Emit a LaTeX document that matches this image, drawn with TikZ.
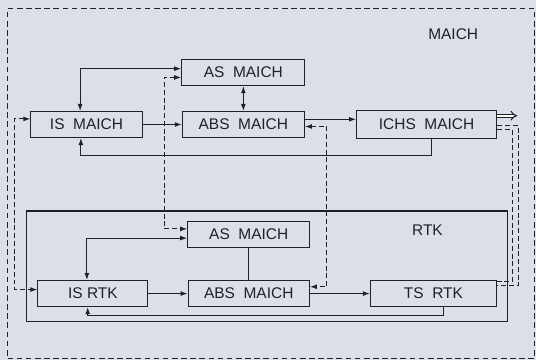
\documentclass[tikz,border=0pt]{standalone}
\usepackage{fontspec}
\setmainfont{Liberation Sans}
\usetikzlibrary{arrows.meta,positioning,fit}
\definecolor{paper}{RGB}{219,223,231}
\definecolor{ink}{RGB}{32,32,38}

\begin{document}
\begin{tikzpicture}[
    font=\fontsize{11}{13}\selectfont,
    color=ink, line width=.75pt,
    blk/.style={draw, align=center, minimum height=.65cm, inner sep=0pt},
    arrow/.style={-{Latex[length=5pt,width=3.5pt]}},
    twoway/.style={{Latex[length=5pt,width=3.5pt]}-{Latex[length=5pt,width=3.5pt]}},
    link/.style={dash pattern=on 3.5pt off 2pt},
    frame/.style={draw, dash pattern=on 4pt off 2.5pt, inner sep=0pt, anchor=north west}
  ]
    \path[use as bounding box, fill=paper] (0,0) rectangle (13.4,-9);

    \node[frame, minimum width=13.175cm, minimum height=8.75cm] (maich) at (0.175,-0.2) {};
    \node (maichlbl) at (11.33,-0.85) {MAICH};

    \node[blk, minimum width=2.78cm] (ismaich) at (2.1625,-3.1125) {IS\ \ MAICH};
    \node[blk, minimum width=3.05cm, right=.98cm of ismaich] (absmaich) {ABS\ \ MAICH};
    \node[blk, minimum width=3.08cm, above=.62cm of absmaich] (asmaich) {AS\ \ MAICH};
    \node[blk, minimum width=3.5cm, minimum height=.72cm, right=1.28cm of absmaich] (ichs) {ICHS\ \ MAICH};

    \node[blk, minimum width=2.75cm, below=3.55cm of ismaich, xshift=.16cm] (isrtk) {IS RTK};
    \node[blk, minimum width=3.03cm, right=.98cm of isrtk] (absrtk) {ABS\ \ MAICH};
    \node[blk, minimum width=3.05cm, above=.8cm of absrtk] (asrtk) {AS\ \ MAICH};
    \node[blk, minimum width=3.15cm, right=1.5cm of absrtk] (tsrtk) {TS\ \ RTK};

    \node[draw, fit=(isrtk)(asrtk)(tsrtk), inner xsep=.27cm, inner ysep=.3cm, yshift=-.05cm] (rtk) {};
    \node (rtklbl) at ([xshift=-2.02cm, yshift=-.5cm]rtk.north east) {RTK};

    \draw[arrow] (ismaich) -- (absmaich);
    \draw[arrow] ([yshift=.13cm]absmaich.east) -- ([yshift=.13cm]absmaich.east -| ichs.west);
    \draw[twoway] (asmaich) -- (absmaich);
    \draw[twoway] ([xshift=-.16cm]ismaich.north) |- ([yshift=.1cm]asmaich.west);
    \draw[arrow] ([xshift=.125cm]ichs.south) -- ++(0,-.4) -| ([xshift=-.14cm]ismaich.south);
    \draw[double, double distance=1.6pt, -{Implies}] ([yshift=.22cm]ichs.east) -- ++(.5,0);

    \draw[arrow] (isrtk) -- (absrtk);
    \draw[arrow] (absrtk) -- (tsrtk);
    \draw (asrtk) -- (absrtk);
    \draw[twoway] ([xshift=-.15cm]isrtk.north) |- ([yshift=-.09cm]asrtk.west);
    \draw[arrow] ([xshift=.25cm]tsrtk.south) -- ++(0,-.2) -| ([xshift=-.13cm]isrtk.south);

    \draw[link, twoway] ([yshift=-.12cm]asmaich.west) -- ++(-.43,0) |- ([yshift=.14cm]asrtk.west);
    \draw[link, twoway] ([yshift=-.05cm]absmaich.east) -- ++(.55,0) |- ([yshift=.17cm]absrtk.east);
    \draw[link, twoway] ([yshift=.14cm]ismaich.west) -- ++(-.4,0) |- ([yshift=.1cm]isrtk.west);
    \draw[link] ([yshift=-.03cm]ichs.east) -- ++(.53,0) |- ([yshift=.2cm]tsrtk.east);
    \draw[link] ([yshift=-.13cm]ichs.east) -- ++(.38,0) |- ([yshift=.3cm]tsrtk.east);
  \end{tikzpicture}
\end{document}
